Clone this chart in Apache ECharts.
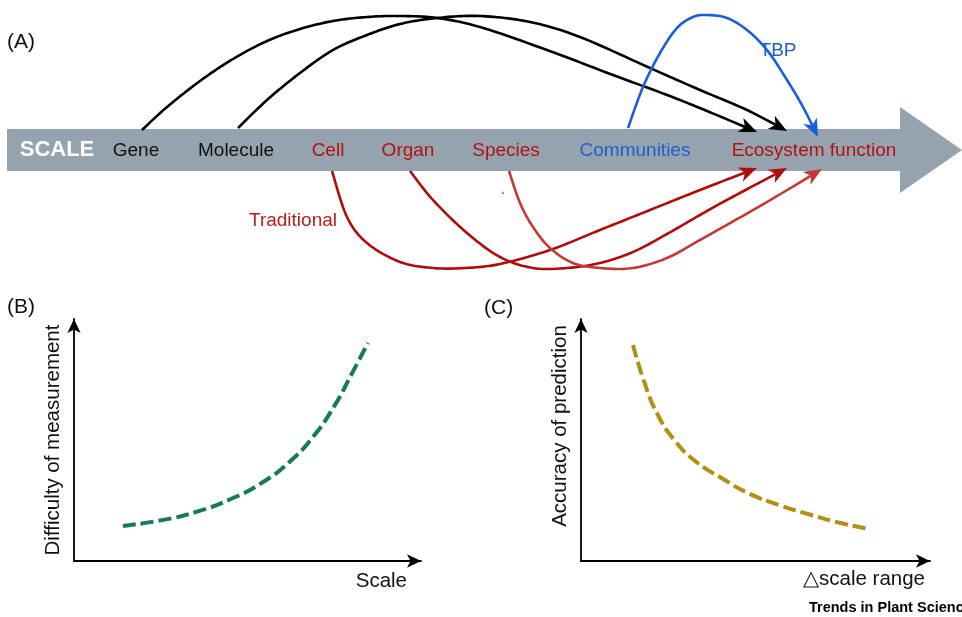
<!DOCTYPE html>
<html>
<head>
<meta charset="utf-8">
<script src="https://cdn.jsdelivr.net/npm/echarts@6/dist/echarts.min.js"></script>
<style>
html,body{margin:0;padding:0;background:#ffffff;}
#c{width:962px;height:617px;}
</style>
</head>
<body>
<div id="c"></div>
<script>
// ===== Panel A: levels along the scale =====
const scaleLevels = ['Gene', 'Molecule', 'Cell', 'Organ', 'Species', 'Communities', 'Ecosystem function'];
const levelPos    = [136, 236, 328, 408, 506, 635, 814];
const levelGroup  = ['mol', 'mol', 'trad', 'trad', 'trad', 'tbp', 'trad'];

// Arrow paths: [position along scale, height above(+)/below(-) band centre]
const genePath     = [[142,20],[167,43],[200,69],[233,91],[267,109],[300,121],[333,129],[367,133],[400,134],[437,132],[480,123],[547,100],[613,75],[680,50],[757,18]];
const moleculePath = [[238,22],[267,50],[300,77],[333,100],[367,115],[400,126],[437,132],[480,134],[530,128],[580,113],[650,82],[700,60],[747,40],[787,19]];
const tbpPath      = [[628,22],[643,63],[660,97],[677,122],[693,133],[707,135],[727,132],[747,120],[767,100],[787,70],[803,43],[818,13]];
const cellPath     = [[332,-21],[347,-67],[367,-93],[400,-112],[433,-118],[465,-118],[500,-114],[550,-100],[600,-80],[650,-60],[700,-40],[757,-18]];
const organPath    = [[410,-21],[433,-50],[467,-83],[500,-107],[533,-118],[567,-118],[600,-113],[633,-102],[667,-84],[700,-65],[725,-51],[787,-18]];
const speciesPath  = [[509,-21],[520,-53],[533,-77],[550,-98],[573,-113],[600,-118],[633,-118],[667,-108],[700,-90],[767,-52],[822,-19]];
const arrowPaths   = [genePath, moleculePath, tbpPath, cellPath, organPath, speciesPath];
const arrowGroup   = ['mol', 'mol', 'tbp', 'trad', 'trad', 'trad2'];

// ===== Panel B: difficulty of measurement vs scale =====
const scaleX     = [1.41, 2.5, 3.5, 4.5, 5.4, 6.2, 6.9, 7.5, 8.0, 8.47];
const difficulty = [1.45, 1.68, 2.02, 2.55, 3.22, 4.08, 5.15, 6.40, 7.72, 9.01];

// ===== Panel C: accuracy of prediction vs scale range =====
const rangeX   = [1.49, 1.80, 2.18, 2.70, 3.30, 4.00, 4.80, 5.70, 6.60, 7.50, 8.28];
const accuracy = [8.93, 7.45, 6.10, 4.95, 4.10, 3.45, 2.80, 2.30, 1.90, 1.55, 1.32];

// ===== styles =====
const FONT = '"Liberation Sans", Arial, sans-serif';
const groupColor = { mol: '#000000', tbp: '#1a5fd8', trad: '#b00c0c', trad2: '#c23a33' };
const textColor  = { mol: '#111111', tbp: '#1f5fd2', trad: '#b21212' };
const bandColor = '#95a3af';

const chart = echarts.init(document.getElementById('c'), null, { renderer: 'canvas' });

// Catmull-Rom sampling through pixel points (drawing helper only)
function spline(pts, seg) {
  const out = [];
  const n = pts.length;
  for (let i = 0; i < n - 1; i++) {
    const p0 = pts[Math.max(i - 1, 0)], p1 = pts[i], p2 = pts[i + 1], p3 = pts[Math.min(i + 2, n - 1)];
    for (let s = 0; s < seg; s++) {
      const t = s / seg, t2 = t * t, t3 = t2 * t;
      const f = (a, b, c, d) => 0.5 * ((2 * b) + (-a + c) * t + (2 * a - 5 * b + 4 * c - d) * t2 + (-a + 3 * b - 3 * c + d) * t3);
      out.push([f(p0[0], p1[0], p2[0], p3[0]), f(p0[1], p1[1], p2[1], p3[1])]);
    }
  }
  out.push(pts[n - 1]);
  return out;
}

function renderBand(params, api) {
  const p = (x, y) => api.coord([x, y]);
  const pts = [p(7, 21), p(900, 21), p(900, 43), p(962, 0), p(900, -43), p(900, -21), p(7, -21)];
  const s = p(57, 0);
  return {
    type: 'group',
    children: [
      { type: 'polygon', shape: { points: pts }, style: { fill: bandColor } },
      { type: 'text', x: s[0], y: s[1], style: { text: 'SCALE', font: 'bold 22px ' + FONT, fill: '#ffffff', align: 'center', verticalAlign: 'middle' } }
    ]
  };
}

function renderArrow(params, api) {
  const i = params.dataIndex;
  const raw = arrowPaths[i].map(d => api.coord(d));
  const pts = spline(raw, 14);
  const n = pts.length;
  const tip = pts[n - 1];
  const L = 18, W = 7.5, N = 5;
  let k = n - 2;
  while (k > 0 && Math.hypot(tip[0] - pts[k][0], tip[1] - pts[k][1]) < L * 0.8) k--;
  let dx = tip[0] - pts[k][0], dy = tip[1] - pts[k][1];
  const len = Math.hypot(dx, dy); dx /= len; dy /= len;
  const nx = -dy, ny = dx;
  const base = [tip[0] - L * dx, tip[1] - L * dy];
  const notch = [tip[0] - (L - N) * dx, tip[1] - (L - N) * dy];
  const head = [tip, [base[0] + W * nx, base[1] + W * ny], notch, [base[0] - W * nx, base[1] - W * ny]];
  const linePts = pts.filter(q => Math.hypot(tip[0] - q[0], tip[1] - q[1]) > (L - N)).concat([notch]);
  const color = groupColor[arrowGroup[i]];
  return {
    type: 'group',
    children: [
      { type: 'polyline', shape: { points: linePts }, style: { stroke: color, lineWidth: 2.6, fill: null, lineJoin: 'round' } },
      { type: 'polygon', shape: { points: head }, style: { fill: color } }
    ]
  };
}

function renderLevel(params, api) {
  const i = params.dataIndex;
  const c = api.coord([api.value(0), api.value(1)]);
  return {
    type: 'text', x: c[0], y: c[1] + 1,
    style: { text: scaleLevels[i], font: '19px ' + FONT, fill: textColor[levelGroup[i]], align: 'center', verticalAlign: 'middle' }
  };
}

const axisLineStyle = { show: true, onZero: false, symbol: ['none', 'arrow'], symbolSize: [10, 14], lineStyle: { color: '#000', width: 1.8 } };
const nameStyle = { fontSize: 20.5, fontFamily: FONT, color: '#111' };

const option = {
  animation: false,
  backgroundColor: '#ffffff',
  grid: [
    { left: 0, top: 0, width: 962, height: 280 },
    { left: 74, top: 319, width: 347, height: 242 },
    { left: 581, top: 319, width: 349, height: 242 }
  ],
  xAxis: [
    { gridIndex: 0, type: 'value', min: 0, max: 962, show: false },
    { gridIndex: 1, type: 'value', min: 0, max: 10, name: 'Scale', nameLocation: 'end', nameGap: -14,
      nameTextStyle: Object.assign({}, nameStyle, { align: 'right', verticalAlign: 'top', padding: [10, 0, 0, 0] }),
      axisLine: axisLineStyle, axisTick: { show: false }, axisLabel: { show: false }, splitLine: { show: false } },
    { gridIndex: 2, type: 'value', min: 0, max: 10, name: '\u25B3scale range', nameLocation: 'end', nameGap: -5,
      nameTextStyle: Object.assign({}, nameStyle, { align: 'right', verticalAlign: 'top', padding: [8, 0, 0, 0] }),
      axisLine: axisLineStyle, axisTick: { show: false }, axisLabel: { show: false }, splitLine: { show: false } }
  ],
  yAxis: [
    { gridIndex: 0, type: 'value', min: -130, max: 150, show: false },
    { gridIndex: 1, type: 'value', min: 0, max: 10, name: 'Difficulty of measurement', nameLocation: 'middle', nameGap: 10,
      nameTextStyle: Object.assign({}, nameStyle),
      axisLine: axisLineStyle, axisTick: { show: false }, axisLabel: { show: false }, splitLine: { show: false } },
    { gridIndex: 2, type: 'value', min: 0, max: 10, name: 'Accuracy of prediction', nameLocation: 'middle', nameGap: 10,
      nameTextStyle: Object.assign({}, nameStyle, { padding: [0, 0, 0, 28] }),
      axisLine: axisLineStyle, axisTick: { show: false }, axisLabel: { show: false }, splitLine: { show: false } }
  ],
  graphic: [
    { type: 'text', x: 7, y: 42, style: { text: '(A)', font: '21px ' + FONT, fill: '#111', verticalAlign: 'middle' } },
    { type: 'text', x: 7, y: 307, style: { text: '(B)', font: '21px ' + FONT, fill: '#111', verticalAlign: 'middle' } },
    { type: 'text', x: 484, y: 308, style: { text: '(C)', font: '21px ' + FONT, fill: '#111', verticalAlign: 'middle' } },
    { type: 'text', x: 778, y: 51, z: 10, style: { text: 'TBP', font: '19px ' + FONT, fill: '#1f5fd2', align: 'center', verticalAlign: 'middle' } },
    { type: 'text', x: 293, y: 221, z: 10, style: { text: 'Traditional', font: '19px ' + FONT, fill: '#b3201e', align: 'center', verticalAlign: 'middle' } },
    { type: 'text', x: 503, y: 193, z: 10, style: { text: '\u25B2', font: '5px ' + FONT, fill: '#8a8a8a', align: 'center', verticalAlign: 'middle' } },
    { type: 'text', x: 809, y: 608, z: 10, style: { text: 'Trends in Plant Science', font: '900 14.5px ' + FONT, fill: '#000', verticalAlign: 'middle' } }
  ],
  series: [
    { type: 'custom', name: 'band', xAxisIndex: 0, yAxisIndex: 0, clip: false, silent: true, z: 1,
      renderItem: renderBand, data: [[0, 0]] },
    { type: 'custom', name: 'arrows', xAxisIndex: 0, yAxisIndex: 0, clip: false, silent: true, z: 2,
      renderItem: renderArrow, data: arrowPaths.map(p => [p[0][0], p[0][1]]) },
    { type: 'custom', name: 'levels', xAxisIndex: 0, yAxisIndex: 0, clip: false, silent: true, z: 3,
      renderItem: renderLevel, data: levelPos.map(x => [x, 0]) },
    { type: 'line', name: 'Difficulty', xAxisIndex: 1, yAxisIndex: 1, smooth: 0.5, symbol: 'none', silent: true,
      lineStyle: { color: '#15795c', width: 4, type: [13, 5] },
      data: scaleX.map((x, i) => [x, difficulty[i]]) },
    { type: 'line', name: 'Accuracy', xAxisIndex: 2, yAxisIndex: 2, smooth: 0.5, symbol: 'none', silent: true,
      lineStyle: { color: '#b58f12', width: 4, type: [13, 5] },
      data: rangeX.map((x, i) => [x, accuracy[i]]) }
  ]
};
chart.setOption(option);
</script>
</body>
</html>
